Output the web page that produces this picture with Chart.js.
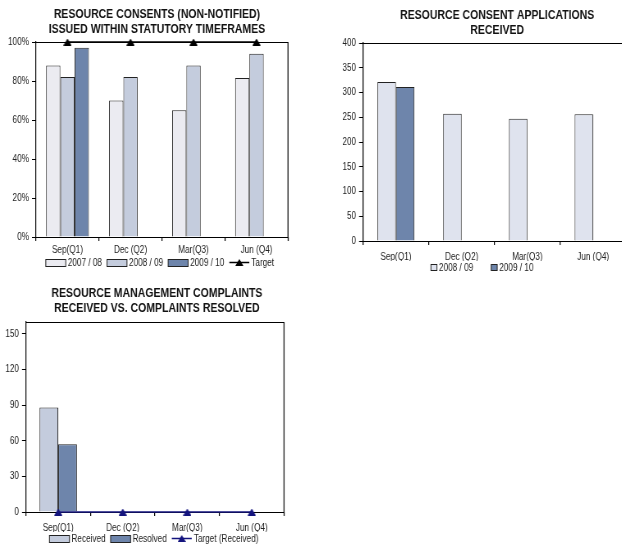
<!DOCTYPE html>
<html>
<head>
<meta charset="utf-8">
<script src="https://cdn.jsdelivr.net/npm/chart.js@4.4.0/dist/chart.umd.min.js"></script>
<style>
    html, body { margin: 0; padding: 0; width: 622px; height: 544px; overflow: hidden; background: #fff; }
    canvas { position: absolute; }
</style>
</head>
<body>
<canvas id="consentsChart" height="276" style="left:0;top:0"></canvas>
<canvas id="applicationsChart" height="280" style="left:310px;top:0"></canvas>
<canvas id="complaintsChart" height="264" style="left:0;top:280px"></canvas>
<script>
const quarters = ['Sep(Q1)', 'Dec (Q2)', 'Mar(Q3)', 'Jun (Q4)'];

// % of non-notified consents issued within statutory timeframes
const issued0708 = [88, 70, 65, 81.5];
const issued0809 = [82, 82, 88, 94];
const issued0910 = [97, null, null, null];
const issuedTarget = [100, 100, 100, 100];
const percentTicks = [0, 20, 40, 60, 80, 100];

// consent applications received
const applications0809 = [321, 257, 247, 256];
const applications0910 = [311, null, null, null];
const applicationTicks = [0, 50, 100, 150, 200, 250, 300, 350, 400];

// complaints received vs resolved
const complaintsReceived = [88, null, null, null];
const complaintsResolved = [57, null, null, null];
const complaintsTarget = [0, 0, 0, 0];
const complaintTicks = [0, 30, 60, 90, 120, 150];

// no Arial Narrow here, so each canvas is drawn wider and squeezed back with css
const SQUEEZE = 0.82;
const sx = v => v / SQUEEZE;

const FONT = '"Liberation Sans", Arial, sans-serif';
Chart.defaults.font.family = FONT;
Chart.defaults.font.size = 10;
Chart.defaults.color = '#222';

function setupCanvas(id, cssWidth) {
    const canvas = document.getElementById(id);
    canvas.width = Math.round(sx(cssWidth));
    canvas.style.width = cssWidth + 'px';
    canvas.style.height = canvas.height + 'px';
    return canvas.getContext('2d');
}

// triangle marker pre-stretched so it looks even after the squeeze
function triangle(color) {
    const c = document.createElement('canvas');
    c.width = Math.round(sx(8));
    c.height = 7;
    const g = c.getContext('2d');
    g.fillStyle = color;
    g.beginPath();
    g.moveTo(c.width / 2, 0);
    g.lineTo(c.width, 7);
    g.lineTo(0, 7);
    g.closePath();
    g.fill();
    return c;
}

// titles, plot frame and a small legend drawn by hand
const decor = {
    id: 'decor',
    afterDraw(chart, args, opts) {
        const ctx = chart.ctx;
        const area = chart.chartArea;
        ctx.save();

        ctx.strokeStyle = '#000';
        ctx.lineWidth = 1;
        ctx.beginPath();
        ctx.moveTo(area.left, Math.round(area.top) + 0.5);
        ctx.lineTo(area.right, Math.round(area.top) + 0.5);
        ctx.stroke();
        if (opts.frameRight) {
            ctx.lineWidth = sx(1);
            ctx.beginPath();
            ctx.moveTo(area.right, area.top);
            ctx.lineTo(area.right, area.bottom);
            ctx.stroke();
        }

        ctx.fillStyle = '#111';
        ctx.font = 'bold 12.8px ' + FONT;
        ctx.textAlign = 'center';
        ctx.textBaseline = 'middle';
        opts.title.forEach((line, i) => ctx.fillText(line, sx(opts.titleX), opts.titleY + i * 15));

        ctx.font = '10px ' + FONT;
        ctx.textAlign = 'left';
        const bw = sx(opts.boxW), bh = opts.boxH, lw = sx(20), gap = sx(opts.gap), pad = sx(2);
        const items = chart.data.datasets.map(ds => {
            const mark = ds.type === 'line' ? lw : bw;
            return { ds, mark, text: ctx.measureText(ds.label).width };
        });
        const total = items.reduce((s, it) => s + it.mark + pad + it.text, 0) + gap * (items.length - 1);
        let x = sx(opts.legendX) - total / 2;
        const y = opts.legendY;
        ctx.fillStyle = '#fff';
        ctx.fillRect(x - pad, y - 6, total + 2 * pad, 14);

        items.forEach(it => {
            const ds = it.ds;
            if (ds.type === 'line') {
                ctx.strokeStyle = ds.borderColor;
                ctx.lineWidth = 1.5;
                ctx.beginPath();
                ctx.moveTo(x, y + 0.5);
                ctx.lineTo(x + lw, y + 0.5);
                ctx.stroke();
                const m = ds.pointStyle;
                ctx.drawImage(m, x + lw / 2 - m.width / 2, y - 3);
            } else {
                const top = Math.round(y - bh / 2) + 0.5;
                ctx.fillStyle = ds.backgroundColor;
                ctx.fillRect(x, top, bw, bh);
                ctx.strokeStyle = '#222';
                ctx.lineWidth = 1;
                ctx.strokeRect(x, top, bw, bh);
            }
            x += it.mark + pad;
            ctx.fillStyle = '#222';
            ctx.fillText(ds.label, x, y + 1);
            x += it.text + gap;
        });
        ctx.restore();
    }
};

function xAxis(pad) {
    return {
        grid: { offset: true, drawOnChartArea: false, tickLength: 4, color: '#000', lineWidth: sx(1) },
        border: { color: '#000' },
        ticks: { padding: pad, color: '#222' },
        afterFit(scale) { scale.height = 20; }
    };
}

function yAxis(width, max, stepTicks, fmt) {
    return {
        min: 0,
        max: max,
        grid: { drawOnChartArea: false, tickLength: sx(4), color: '#000' },
        border: { color: '#000', width: sx(1) },
        ticks: { padding: sx(3), color: '#222', callback: fmt },
        afterBuildTicks(scale) { scale.ticks = stepTicks.map(v => ({ value: v })); },
        afterFit(scale) { scale.width = sx(width); }
    };
}

const consentsCtx = setupCanvas('consentsChart', 300);
const consentsChart = new Chart(consentsCtx, {
    type: 'bar',
    data: {
        labels: quarters,
        datasets: [
            { label: '2007 / 08', data: issued0708, backgroundColor: '#ebebf1', borderColor: '#222', borderWidth: 1, order: 1 },
            { label: '2008 / 09', data: issued0809, backgroundColor: '#c4ccdd', borderColor: '#222', borderWidth: 1, order: 1 },
            { label: '2009 / 10', data: issued0910, backgroundColor: '#6e85ab', borderColor: '#222', borderWidth: 1, order: 1 },
            { type: 'line', label: 'Target', data: issuedTarget, borderColor: '#000', borderWidth: 1.5,
              pointStyle: triangle('#000'), clip: false, order: 0 }
        ]
    },
    options: {
        responsive: false,
        animation: false,
        datasets: { bar: { categoryPercentage: 0.68, barPercentage: 1 } },
        layout: { padding: { top: 42, right: sx(12), bottom: 19, left: 0 } },
        scales: {
            x: xAxis(3),
            y: yAxis(36, 100, percentTicks, v => v + '%')
        },
        plugins: {
            legend: { display: false },
            tooltip: { enabled: false },
            decor: {
                title: ['RESOURCE CONSENTS (NON-NOTIFIED)', 'ISSUED WITHIN STATUTORY TIMEFRAMES'],
                titleX: 157, titleY: 14, frameRight: true,
                legendX: 160, legendY: 262, boxW: 20, boxH: 7, gap: 5
            }
        }
    },
    plugins: [decor]
});

const applicationsCtx = setupCanvas('applicationsChart', 330);
const applicationsChart = new Chart(applicationsCtx, {
    type: 'bar',
    data: {
        labels: quarters,
        datasets: [
            { label: '2008 / 09', data: applications0809, backgroundColor: '#dfe3ee', borderColor: '#222', borderWidth: 1 },
            { label: '2009 / 10', data: applications0910, backgroundColor: '#6e85ab', borderColor: '#222', borderWidth: 1 }
        ]
    },
    options: {
        responsive: false,
        animation: false,
        datasets: { bar: { categoryPercentage: 0.563, barPercentage: 1 } },
        layout: { padding: { top: 43, right: sx(14), bottom: 19, left: 0 } },
        scales: {
            x: xAxis(6),
            y: yAxis(53, 400, applicationTicks, v => v)
        },
        plugins: {
            legend: { display: false },
            tooltip: { enabled: false },
            decor: {
                title: ['RESOURCE CONSENT APPLICATIONS', 'RECEIVED'],
                titleX: 187, titleY: 15, frameRight: false,
                legendX: 172, legendY: 267, boxW: 6, boxH: 6, gap: 18
            }
        }
    },
    plugins: [decor]
});

const complaintsCtx = setupCanvas('complaintsChart', 300);
const complaintsChart = new Chart(complaintsCtx, {
    type: 'bar',
    data: {
        labels: quarters,
        datasets: [
            { label: 'Received', data: complaintsReceived, backgroundColor: '#c4ccdd', borderColor: '#222', borderWidth: 1, order: 1 },
            { label: 'Resolved', data: complaintsResolved, backgroundColor: '#6e85ab', borderColor: '#222', borderWidth: 1, order: 1 },
            { type: 'line', label: 'Target (Received)', data: complaintsTarget, borderColor: '#14147e', borderWidth: 1.5,
              pointStyle: triangle('#14147e'), clip: false, order: 0 }
        ]
    },
    options: {
        responsive: false,
        animation: false,
        datasets: { bar: { categoryPercentage: 0.58, barPercentage: 1 } },
        layout: { padding: { top: 42, right: sx(16), bottom: 12, left: 0 } },
        scales: {
            x: xAxis(6),
            y: yAxis(26, 160, complaintTicks, v => v)
        },
        plugins: {
            legend: { display: false },
            tooltip: { enabled: false },
            decor: {
                title: ['RESOURCE MANAGEMENT COMPLAINTS', 'RECEIVED VS. COMPLAINTS RESOLVED'],
                titleX: 157, titleY: 13, frameRight: true,
                legendX: 154, legendY: 258, boxW: 20, boxH: 7, gap: 5
            }
        }
    },
    plugins: [decor]
});
</script>
</body>
</html>
